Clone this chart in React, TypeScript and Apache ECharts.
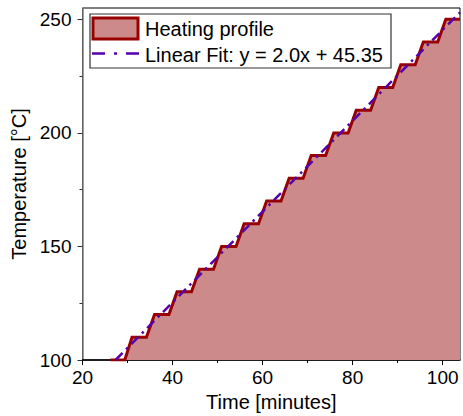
import React, { useEffect, useRef } from "react";
import * as echarts from "echarts";

// Staircase heating profile (time in minutes, temperature in °C)
const stepTime = [26.2, 29.4, 31.0, 34.2, 36.0, 39.2, 41.0, 44.2, 46.0, 49.1, 50.9, 54.1, 55.9, 59.1, 60.9, 64.1, 65.9, 69.0, 70.8, 74.0, 75.8, 79.0, 80.8, 84.0, 85.8, 88.9, 90.7, 93.9, 95.7, 98.9, 100.7, 103.85];
const stepTemp = [100, 100, 110, 110, 120, 120, 130, 130, 140, 140, 150, 150, 160, 160, 170, 170, 180, 180, 190, 190, 200, 200, 210, 210, 220, 220, 230, 230, 240, 240, 250, 250];

// Linear fit endpoints
const fitTime = [27.33, 103.85];
const fitTemp = [100.0, 253.05];

// Axes
const xMin = 20;
const xMax = 103.85;
const xMajorTicks = [20, 40, 60, 80, 100];
const xMinorTicks = [30, 50, 70, 90];
const yMin = 100;
const yMax = 255;
const yMajorTicks = [100, 150, 200, 250];
const yMinorTicks = [125, 175, 225];

const xTitle = "Time [minutes]";
const yTitle = "Temperature [°C]";
const seriesNames = ["Heating profile", "Linear Fit: y = 2.0x + 45.35"];

const FONT = "Liberation Sans, Arial, sans-serif";
const FILL = "#cd8a8b";
const RED = "#990000";
const FIT = "#5500aa";

export default function App() {
  const ref = useRef<HTMLDivElement>(null);

  useEffect(() => {
    if (!ref.current) return;
    const chart = echarts.init(ref.current, undefined, { renderer: "svg" });
    const stepData = stepTime.map((t, i) => [t, stepTemp[i]]);
    const fitData = fitTime.map((t, i) => [t, fitTemp[i]]);

    chart.setOption({
      animation: false,
      grid: {
        left: 82.5,
        right: 3,
        top: 8,
        bottom: 56,
        show: true,
        borderColor: "#000",
        borderWidth: 1,
        backgroundColor: "transparent",
        outerBoundsMode: "none",
      },
      xAxis: [
        {
          type: "value",
          min: xMin,
          max: xMax,
          position: "bottom",
          name: xTitle,
          nameLocation: "middle",
          nameGap: 31,
          nameTextStyle: { fontSize: 20, color: "#000", fontFamily: FONT },
          axisLine: { show: true, lineStyle: { color: "#000", width: 1.5 } },
          axisTick: { show: true, length: 5, customValues: xMajorTicks, lineStyle: { color: "#000", width: 1 } },
          axisLabel: { customValues: xMajorTicks, fontSize: 19, color: "#000", fontFamily: FONT, margin: 8 },
          splitLine: { show: false },
        },
        {
          type: "value",
          min: xMin,
          max: xMax,
          position: "bottom",
          axisLine: { show: false },
          axisTick: { show: true, length: 3, customValues: xMinorTicks, lineStyle: { color: "#000", width: 1 } },
          axisLabel: { show: false },
          splitLine: { show: false },
        },
      ],
      yAxis: [
        {
          type: "value",
          min: yMin,
          max: yMax,
          position: "left",
          name: yTitle,
          nameLocation: "middle",
          nameGap: 49,
          nameTextStyle: { fontSize: 20, color: "#000", fontFamily: FONT },
          axisLine: { show: true, lineStyle: { color: "#808080", width: 1.5 } },
          axisTick: { show: true, length: 5, customValues: yMajorTicks, lineStyle: { color: "#333", width: 1 } },
          axisLabel: { customValues: yMajorTicks, fontSize: 19, color: "#000", fontFamily: FONT, margin: 11 },
          splitLine: { show: false },
        },
        {
          type: "value",
          min: yMin,
          max: yMax,
          position: "left",
          axisLine: { show: false },
          axisTick: { show: true, length: 3, customValues: yMinorTicks, lineStyle: { color: "#333", width: 1 } },
          axisLabel: { show: false },
          splitLine: { show: false },
        },
      ],
      series: [
        {
          name: seriesNames[0],
          type: "line",
          xAxisIndex: 0,
          yAxisIndex: 0,
          data: stepData,
          symbol: "none",
          lineStyle: { color: RED, width: 3, join: "miter" },
          areaStyle: { color: FILL, opacity: 1, origin: "start" },
          z: 2,
        },
        {
          name: seriesNames[1],
          type: "line",
          xAxisIndex: 0,
          yAxisIndex: 0,
          data: fitData,
          symbol: "none",
          lineStyle: { color: FIT, width: 2.5, type: [10, 5, 2.5, 5] },
          z: 3,
        },
      ],
      graphic: [
        {
          type: "rect",
          shape: { x: 90, y: 14, width: 301, height: 54 },
          style: { fill: "#fff", stroke: "#333", lineWidth: 1.2 },
          z: 10,
        },
        {
          type: "rect",
          shape: { x: 93, y: 18, width: 45, height: 21 },
          style: { fill: FILL, stroke: RED, lineWidth: 3 },
          z: 11,
        },
        {
          type: "text",
          x: 145,
          y: 29,
          style: { text: seriesNames[0], fontSize: 20, fontFamily: FONT, fill: "#000", verticalAlign: "middle" },
          z: 11,
        },
        {
          type: "line",
          shape: { x1: 92, y1: 53.5, x2: 140, y2: 53.5 },
          style: { stroke: FIT, lineWidth: 2.5, lineDash: [13, 9, 3, 9] },
          z: 11,
        },
        {
          type: "text",
          x: 145,
          y: 55,
          style: { text: seriesNames[1], fontSize: 20, fontFamily: FONT, fill: "#000", verticalAlign: "middle" },
          z: 11,
        },
      ],
    });

    return () => chart.dispose();
  }, []);

  return (
    <div
      ref={ref}
      style={{ position: "fixed", left: 0, top: 0, width: 463, height: 416, background: "#fff" }}
    />
  );
}
